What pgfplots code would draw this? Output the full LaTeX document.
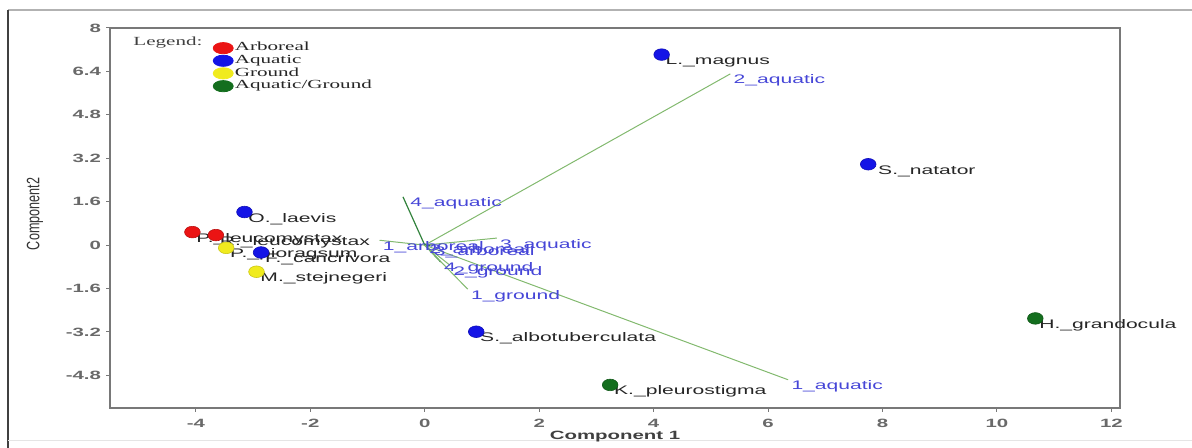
\documentclass[border=0pt]{standalone}
\usepackage{fontspec}
\usepackage{pgfplots}
\pgfplotsset{compat=1.18}
\setmainfont{Liberation Sans}
\newfontfamily\labfont[FakeStretch=1.7]{Liberation Sans}
\newfontfamily\legfont[FakeStretch=1.7]{Liberation Serif}
\newfontfamily\ylabfont[FakeStretch=0.7]{Liberation Sans}
\definecolor{ptred}{RGB}{235,20,20}
\definecolor{ptblue}{RGB}{20,20,230}
\definecolor{ptyellow}{RGB}{240,235,30}
\definecolor{ptgreen}{RGB}{20,110,30}
\definecolor{vecgreen}{RGB}{130,185,110}
\definecolor{vecdark}{RGB}{50,130,60}
\definecolor{veclab}{RGB}{70,70,215}
\definecolor{axgray}{RGB}{120,120,120}
\definecolor{tickgray}{RGB}{105,105,105}
\tikzset{plab/.style={anchor=base west, inner sep=0pt, xshift=1.8pt, yshift=-5pt, font=\labfont\fontsize{6.2}{7}\selectfont, text=black!85},
vlab/.style={anchor=base west, inner sep=0pt, xshift=1.5pt, yshift=-5pt, font=\labfont\fontsize{6.2}{7}\selectfont, text=veclab}}
\begin{document}
\begin{tikzpicture}
\useasboundingbox (0pt,0pt) rectangle (596pt,224pt);
\draw[gray!60, line width=0.6pt] (4pt,219pt) -- (596pt,219pt);
\draw[black!75, line width=0.9pt] (4pt,219pt) -- (4pt,0pt);
\draw[gray!20, line width=0.4pt] (4pt,3.8pt) -- (596pt,3.8pt);
\begin{axis}[
  at={(55pt,20pt)}, anchor=south west, scale only axis, width=505pt, height=190pt,
  xmin=-5.5, xmax=12.15, ymin=-6, ymax=8,
  axis line style={axgray, line width=0.75pt},
  xtick={-4,-2,0,2,4,6,8,10,12},
  xticklabels={-4,-2,0,2,4,6,8,10,12},
  ytick={-4.8,-3.2,-1.6,0,1.6,3.2,4.8,6.4,8},
  yticklabels={-4.8,-3.2,-1.6,0,1.6,3.2,4.8,6.4,8},
  xtick pos=left, ytick pos=left,
  tick align=outside, major tick length=2pt, tick style={axgray, line width=0.5pt},
  ticklabel style={font=\labfont\bfseries\fontsize{6}{7}\selectfont, text=tickgray},
  yticklabel style={xshift=1pt},
  clip=false,
  legend style={at={(axis cs:-3.71,7.53)}, anchor=north west, draw=none, fill=none,
    inner sep=0pt, row sep=-0.6pt, font=\legfont\fontsize{6.2}{7}\selectfont,
    nodes={inner sep=0.6pt, text=black!85}},
  legend cell align=left,
]
\addlegendimage{legend image code/.code={\fill[ptred] (5pt,0pt) ellipse [x radius=5pt, y radius=2.8pt];}}
\addlegendentry{Arboreal}
\addlegendimage{legend image code/.code={\fill[ptblue] (5pt,0pt) ellipse [x radius=5pt, y radius=2.8pt];}}
\addlegendentry{Aquatic}
\addlegendimage{legend image code/.code={\fill[ptyellow] (5pt,0pt) ellipse [x radius=5pt, y radius=2.8pt];}}
\addlegendentry{Ground}
\addlegendimage{legend image code/.code={\fill[ptgreen] (5pt,0pt) ellipse [x radius=5pt, y radius=2.8pt];}}
\addlegendentry{Aquatic/Ground}

% loading vectors
\addplot[vecgreen, line width=0.5pt, forget plot] coordinates {(0,0) (5.34,6.31)};
\addplot[vecgreen, line width=0.5pt, forget plot] coordinates {(0,0) (6.35,-4.96)};
\addplot[vecdark, line width=0.6pt, forget plot] coordinates {(0,0) (-0.38,1.78)};
\addplot[vecgreen, line width=0.5pt, forget plot] coordinates {(0,0) (-0.79,0.18)};
\addplot[vecgreen, line width=0.5pt, forget plot] coordinates {(0,0) (1.26,0.26)};
\addplot[vecdark, line width=0.5pt, forget plot] coordinates {(0,0) (0.02,0.05)};
\addplot[vecdark, line width=0.5pt, forget plot] coordinates {(0,0) (0.10,-0.02)};
\addplot[vecdark, line width=0.6pt, forget plot] coordinates {(0,0) (0.28,-0.62)};
\addplot[vecgreen, line width=0.5pt, forget plot] coordinates {(0,0) (0.44,-0.74)};
\addplot[vecgreen, line width=0.5pt, forget plot] coordinates {(0,0) (0.75,-1.62)};

\node[vlab] at (axis cs:5.34,6.31) {2\_aquatic};
\node[vlab] at (axis cs:6.35,-4.96) {1\_aquatic};
\node[vlab, xshift=2pt] at (axis cs:-0.38,1.78) {4\_aquatic};
\node[vlab] at (axis cs:-0.79,0.18) {1\_arboreal};
\node[vlab, xshift=0pt] at (axis cs:1.26,0.26) {3\_aquatic};
\node[vlab] at (axis cs:0.02,0.05) {2\_arboreal};
\node[vlab] at (axis cs:0.10,-0.02) {3\_arboreal};
\node[vlab] at (axis cs:0.28,-0.62) {4\_ground};
\node[vlab] at (axis cs:0.44,-0.74) {2\_ground};
\node[vlab] at (axis cs:0.75,-1.62) {1\_ground};

% species labels
\node[plab] at (axis cs:4.14,7.02) {L.\_magnus};
\node[plab, xshift=3pt] at (axis cs:7.75,2.98) {S.\_natator};
\node[plab] at (axis cs:-3.15,1.22) {O.\_laevis};
\node[plab] at (axis cs:-2.86,-0.27) {F.\_cancrivora};
\node[plab] at (axis cs:0.90,-3.19) {S.\_albotuberculata};
\node[plab] at (axis cs:-4.06,0.48) {P.\_leucomystax};
\node[plab] at (axis cs:-3.65,0.37) {R.\_leucomystax};
\node[plab] at (axis cs:-3.47,-0.10) {P.\_pioragsum};
\node[plab] at (axis cs:-2.94,-0.98) {M.\_stejnegeri};
\node[plab] at (axis cs:3.24,-5.15) {K.\_pleurostigma};
\node[plab] at (axis cs:10.67,-2.70) {H.\_grandocula};

% points
\addplot[only marks, mark=*, mark size=2.9pt, mark options={xscale=1.35, fill=ptred, draw=ptred!80!black, line width=0.3pt}, forget plot]
  coordinates {(-4.06,0.48) (-3.65,0.37)};
\addplot[only marks, mark=*, mark size=2.9pt, mark options={xscale=1.35, fill=ptblue, draw=ptblue!80!black, line width=0.3pt}, forget plot]
  coordinates {(4.14,7.02) (7.75,2.98) (-3.15,1.22) (-2.86,-0.27) (0.90,-3.19)};
\addplot[only marks, mark=*, mark size=2.9pt, mark options={xscale=1.35, fill=ptyellow, draw=ptyellow!85!black, line width=0.3pt}, forget plot]
  coordinates {(-3.47,-0.10) (-2.94,-0.98)};
\addplot[only marks, mark=*, mark size=2.9pt, mark options={xscale=1.35, fill=ptgreen, draw=ptgreen!80!black, line width=0.3pt}, forget plot]
  coordinates {(3.24,-5.15) (10.67,-2.70)};
\end{axis}
\node[anchor=west, inner sep=0pt, font=\legfont\fontsize{6.2}{7}\selectfont, text=black!75] at (66.5pt,202.5pt) {Legend:};
\node[rotate=90, inner sep=0pt, font=\ylabfont\fontsize{9}{10}\selectfont, text=black!80] at (17.5pt,117pt) {Component2};
\node[inner sep=0pt, font=\labfont\bfseries\fontsize{6}{7}\selectfont, text=black!75] at (307.5pt,5.5pt) {Component 1};
\end{tikzpicture}
\end{document}
